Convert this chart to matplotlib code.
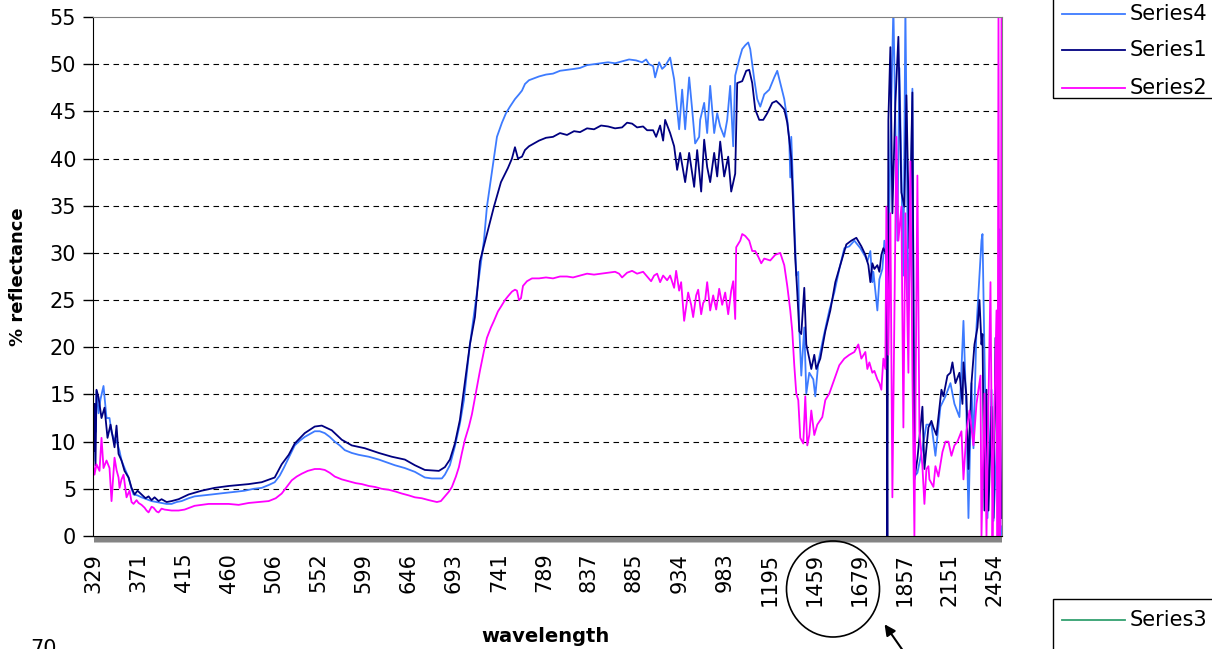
import matplotlib
matplotlib.use("Agg")
import matplotlib.pyplot as plt
from matplotlib.lines import Line2D
from matplotlib.patches import Rectangle, Ellipse, FancyArrowPatch

plt.rcParams['font.family'] = ['DejaVu Sans']

# category axis: one category per reading, a label every 45 categories
n_cat = 908
label_step = 45
wl_labels = [329, 371, 415, 460, 506, 552, 599, 646, 693, 741, 789,
             837, 885, 934, 983, 1195, 1459, 1679, 1857, 2151, 2454]

# Series1 (navy)
s1_idx = [0, 1, 2, 3, 5, 8, 11, 14, 17, 21, 23, 25, 28, 31, 35, 38, 41, 44, 48, 52,
          55, 58, 61, 65, 68, 73, 78, 85, 95, 108, 121, 135, 155, 168, 181, 188, 195,
          201, 211, 221, 228, 238, 248, 258, 271, 285, 298, 311, 321, 331, 345, 351,
          356, 361, 366, 370, 376, 381, 386, 393, 400, 407, 414, 418, 421, 424, 428,
          431, 435, 440, 445, 452, 459, 466, 473, 480, 486, 493, 500, 507, 514, 521,
          528, 533, 538, 543, 549, 553, 559, 562, 566, 569, 571, 576, 580, 583, 586,
          591, 595, 600, 603, 607, 610, 613, 616, 620, 623, 626, 630, 634, 637, 641,
          643, 648, 652, 655, 658, 661, 665, 669, 673, 678, 682, 686, 690, 693, 695,
          697, 699, 701, 703, 705, 707, 710, 712, 715, 717, 720, 722, 726, 731, 736,
          741, 747, 752, 757, 762, 767, 771, 774, 776, 778, 780, 783, 785, 787, 789,
          792, 793, 794, 796, 798, 801, 804, 807, 810, 812, 815, 818, 820, 823, 828,
          830, 834, 837, 839, 842, 847, 849, 853, 856, 858, 861, 865, 868, 869, 872,
          874, 877, 880, 883, 885, 887, 888, 890, 892, 894, 897, 899, 901, 903, 905,
          907]
s1_val = [9.0, 14.0, 7.5, 15.5, 14.7, 12.5, 13.6, 10.4, 11.8, 9.4, 11.7, 8.7, 8.0, 6.9,
          6.2, 5.1, 4.4, 4.8, 4.4, 4.0, 4.2, 3.8, 4.1, 3.7, 3.9, 3.6, 3.7, 3.9, 4.4, 4.8,
          5.1, 5.3, 5.5, 5.7, 6.2, 7.6, 8.6, 9.8, 10.9, 11.6, 11.7, 11.2, 10.2, 9.6, 9.3,
          8.8, 8.4, 8.1, 7.5, 7.0, 6.9, 7.3, 8.1, 9.8, 12.3, 15.5, 20.3, 23.2, 29.1, 32.0,
          34.9, 37.5, 39.0, 40.0, 41.2, 40.0, 40.2, 40.9, 41.3, 41.6, 41.9, 42.2, 42.3,
          42.7, 42.5, 42.9, 42.8, 43.2, 43.1, 43.5, 43.4, 43.2, 43.3, 43.8, 43.7, 43.3,
          43.4, 43.0, 43.0, 42.3, 43.5, 41.9, 44.1, 42.7, 41.3, 38.8, 40.6, 37.5, 40.6,
          37.0, 40.9, 36.5, 42.0, 39.1, 37.5, 40.6, 38.1, 41.8, 38.1, 40.2, 36.5, 38.4,
          48.0, 48.2, 49.3, 49.4, 48.0, 45.2, 44.1, 44.1, 44.8, 45.9, 46.1, 45.7, 45.2,
          43.8, 42.0, 40.0, 34.9, 29.4, 25.8, 21.7, 21.4, 26.3, 20.3, 18.8, 17.7, 19.2,
          17.7, 18.8, 21.7, 23.9, 26.9, 29.1, 30.9, 31.3, 31.6, 30.7, 29.8, 28.7, 26.9,
          28.9, 28.3, 28.7, 28.0, 29.8, 30.5, 29.8, 0.0, 44.1, 51.8, 34.2, 45.9, 52.9,
          36.4, 34.9, 46.7, 30.5, 47.0, 6.0, 8.2, 13.7, 7.1, 11.5, 12.2, 11.5, 10.7, 15.5,
          14.8, 17.0, 17.3, 18.4, 16.2, 17.3, 14.0, 18.4, 14.8, 7.1, 16.2, 20.3, 22.1,
          25.0, 20.3, 21.4, 2.7, 15.5, 2.7, 13.7, 1.9, 21.0, 6.7, 18.1, 1.9]

# Series4 (light blue)
s4_idx = [0, 1, 2, 3, 5, 7, 10, 13, 16, 18, 20, 23, 26, 28, 31, 35, 38, 40, 44, 48, 53,
          58, 63, 68, 73, 78, 83, 88, 95, 101, 110, 118, 126, 135, 143, 151, 160, 168,
          175, 181, 186, 190, 196, 201, 206, 211, 216, 221, 226, 231, 236, 241, 246,
          251, 258, 265, 275, 285, 293, 301, 311, 321, 326, 331, 338, 345, 348, 351,
          356, 361, 366, 370, 376, 383, 390, 393, 398, 403, 408, 412, 416, 421, 425,
          428, 431, 435, 440, 445, 452, 459, 466, 473, 480, 486, 493, 500, 507, 514,
          521, 528, 535, 542, 548, 552, 555, 559, 561, 565, 568, 571, 576, 580, 583,
          585, 588, 591, 595, 598, 601, 605, 606, 610, 613, 616, 620, 623, 626, 630,
          633, 636, 639, 641, 645, 648, 651, 654, 656, 660, 663, 666, 670, 675, 680,
          683, 686, 690, 693, 695, 696, 697, 699, 702, 704, 705, 707, 710, 712, 715,
          719, 721, 724, 729, 735, 740, 745, 750, 755, 760, 766, 771, 773, 776, 778,
          779, 783, 785, 788, 790, 794, 796, 799, 803, 805, 809, 811, 814, 816, 818,
          820, 823, 828, 832, 837, 841, 846, 851, 856, 860, 865, 869, 872, 874, 877,
          879, 882, 887, 888, 891, 893, 897, 899, 903, 904, 905, 906, 907]
s4_val = [8.0, 14.0, 11.0, 15.4, 13.0, 14.5, 15.9, 12.5, 12.5, 11.0, 10.4, 10.1, 9.0,
          8.0, 7.2, 6.2, 5.0, 4.4, 4.3, 4.1, 3.9, 3.7, 3.6, 3.5, 3.4, 3.4, 3.6, 3.7, 4.0,
          4.2, 4.3, 4.4, 4.5, 4.6, 4.7, 4.8, 5.0, 5.1, 5.4, 5.7, 6.4, 7.2, 8.5, 9.6, 10.1,
          10.5, 10.8, 11.1, 11.1, 10.9, 10.5, 10.0, 9.6, 9.1, 8.8, 8.6, 8.4, 8.1, 7.8, 7.5,
          7.2, 6.8, 6.5, 6.2, 6.1, 6.1, 6.1, 6.5, 7.5, 9.5, 11.9, 14.4, 20.3, 25.8, 31.3,
          34.9, 38.6, 42.3, 43.8, 44.8, 45.5, 46.3, 46.8, 47.2, 47.9, 48.3, 48.5, 48.7,
          48.9, 49.0, 49.3, 49.4, 49.5, 49.6, 49.9, 50.0, 50.1, 50.2, 50.1, 50.3, 50.5,
          50.4, 50.2, 50.5, 50.0, 49.8, 48.6, 50.2, 49.5, 49.8, 50.7, 48.4, 45.2, 43.1,
          47.3, 43.1, 48.6, 45.2, 41.6, 42.3, 44.1, 45.9, 42.7, 47.7, 42.7, 44.8, 43.4,
          42.3, 44.1, 47.7, 41.3, 48.8, 50.5, 51.6, 52.0, 52.3, 51.6, 48.4, 46.3, 45.5,
          46.8, 47.3, 48.6, 49.3, 48.0, 46.3, 44.1, 42.0, 38.0, 42.3, 36.4, 27.6, 28.0,
          22.1, 17.0, 22.1, 15.1, 17.3, 16.6, 14.8, 18.4, 21.0, 23.9, 25.8, 28.3, 30.5,
          30.7, 31.3, 30.5, 29.6, 29.1, 30.2, 26.9, 28.0, 23.9, 27.2, 28.3, 31.3, 27.6,
          41.5, 56.0, 31.3, 49.6, 27.6, 56.0, 23.9, 32.0, 47.4, 6.3, 6.7, 9.3, 11.8, 11.8,
          8.5, 13.7, 14.8, 16.2, 14.0, 12.6, 22.8, 12.9, 1.9, 16.2, 9.3, 22.1, 31.3, 32.0,
          12.9, 1.9, 15.5, 1.6, 11.1, 0.0, 32.5, 0.0, 1.0]

# Series2 (magenta)
s2_idx = [0, 1, 3, 6, 8, 10, 13, 16, 18, 21, 23, 25, 26, 28, 30, 33, 36, 38, 40, 43, 45,
          48, 51, 53, 55, 58, 60, 63, 65, 68, 71, 78, 85, 91, 101, 115, 135, 145, 155,
          165, 175, 182, 188, 193, 198, 203, 208, 214, 221, 226, 231, 236, 241, 248,
          255, 262, 268, 275, 281, 288, 295, 302, 308, 315, 321, 328, 335, 343, 347,
          351, 355, 358, 362, 365, 368, 371, 375, 378, 382, 386, 390, 393, 397, 400,
          404, 407, 411, 414, 418, 421, 423, 425, 427, 429, 433, 438, 445, 452, 459,
          466, 473, 479, 486, 493, 500, 507, 514, 521, 525, 528, 533, 538, 543, 549,
          553, 557, 560, 563, 566, 569, 573, 576, 580, 582, 585, 587, 590, 594, 597,
          599, 602, 604, 607, 609, 611, 613, 616, 619, 622, 625, 628, 631, 634, 637,
          639, 641, 642, 646, 648, 651, 655, 658, 661, 664, 667, 670, 676, 681, 686,
          690, 693, 696, 698, 700, 702, 704, 706, 709, 711, 713, 715, 717, 720, 723,
          728, 731, 735, 740, 745, 750, 755, 760, 764, 767, 771, 773, 775, 778, 780,
          783, 785, 787, 789, 791, 792, 794, 796, 798, 802, 804, 807, 809, 811, 814,
          816, 818, 820, 823, 825, 828, 830, 832, 834, 835, 839, 841, 844, 848, 851,
          854, 857, 860, 863, 867, 869, 872, 875, 879, 882, 886, 887, 890, 892, 894,
          896, 898, 899, 902, 903, 904, 905, 906, 907]
s2_val = [7.5, 6.5, 7.6, 6.9, 10.4, 7.2, 8.0, 7.2, 3.7, 8.3, 7.0, 6.2, 5.1, 6.0, 6.5,
          4.1, 4.8, 3.6, 3.4, 3.8, 3.5, 3.3, 3.0, 2.7, 2.5, 3.1, 3.0, 2.6, 2.5, 2.9, 2.8,
          2.7, 2.7, 2.8, 3.2, 3.4, 3.4, 3.3, 3.5, 3.6, 3.7, 4.0, 4.5, 5.2, 5.9, 6.3, 6.6,
          6.9, 7.1, 7.1, 7.0, 6.7, 6.3, 6.0, 5.8, 5.6, 5.5, 5.3, 5.2, 5.0, 4.9, 4.7, 4.5,
          4.3, 4.1, 4.0, 3.8, 3.6, 3.7, 4.2, 4.7, 5.2, 6.3, 7.3, 8.8, 10.2, 11.6, 12.9,
          15.2, 17.5, 19.6, 21.0, 22.1, 22.8, 23.8, 24.3, 25.0, 25.4, 25.9, 26.1, 26.0,
          25.0, 25.2, 26.5, 27.0, 27.3, 27.3, 27.4, 27.3, 27.5, 27.5, 27.4, 27.6, 27.8,
          27.7, 27.8, 27.9, 28.0, 27.8, 27.4, 27.9, 28.1, 27.8, 28.0, 27.5, 27.0, 27.6,
          27.8, 26.9, 27.6, 27.1, 27.6, 26.3, 28.1, 26.0, 26.9, 22.8, 25.8, 24.5, 23.2,
          25.5, 26.1, 23.5, 24.7, 25.0, 26.9, 23.9, 25.5, 24.0, 26.2, 24.5, 25.8, 23.5,
          26.0, 27.0, 23.0, 30.6, 31.3, 32.0, 31.8, 31.3, 30.2, 30.2, 29.6, 28.9, 29.4,
          29.2, 29.8, 30.0, 28.7, 26.5, 23.9, 21.7, 18.1, 15.1, 14.4, 10.4, 9.8, 14.8,
          9.6, 10.7, 13.3, 10.7, 11.8, 12.6, 14.4, 15.1, 16.6, 18.1, 18.8, 19.2, 19.5,
          20.3, 18.8, 19.5, 17.7, 18.4, 17.3, 17.5, 16.6, 16.2, 15.5, 18.8, 17.7, 34.9,
          19.2, 34.2, 4.1, 42.3, 31.3, 34.9, 11.5, 34.2, 17.3, 39.7, 17.3, 0.0, 38.2,
          11.1, 7.4, 3.4, 7.1, 7.4, 6.0, 5.2, 7.4, 6.3, 8.9, 10.0, 10.0, 8.5, 9.6, 10.0,
          11.1, 6.0, 11.1, 13.3, 9.6, 14.0, 17.0, 0.0, 15.1, 0.0, 14.4, 26.9, 0.0, 8.2,
          23.9, 0.0, 56.0, 0.0, 1.0, 56.0]

W, H = 1212, 649
fig = plt.figure(figsize=(W / 100, H / 100), dpi=100)


def fx(px):
    return px / W


def fy(py):
    return 1 - py / H


ax = fig.add_axes([fx(93), fy(536), (1002 - 93) / W, (536 - 17) / H])

ax.plot(s4_idx, s4_val, color='#3d7bff', lw=1.3, label='Series4')
ax.plot(s1_idx, s1_val, color='#000080', lw=1.3, label='Series1')
ax.plot(s2_idx, s2_val, color='#ff00ff', lw=1.3, label='Series2')

ax.set_xlim(-0.5, n_cat - 0.5)
ax.set_ylim(0, 55)

ax.set_yticks(range(0, 56, 5))
ax.tick_params(axis='y', direction='out', length=7, width=1, labelsize=15, pad=5)

ax.set_xticks(range(0, label_step * len(wl_labels), label_step))
ax.set_xticklabels([str(w) for w in wl_labels], rotation=90, fontsize=15)
ax.set_xticks(range(n_cat), minor=True)
ax.tick_params(axis='x', which='both', direction='out', length=4, width=0.4,
               color='#222222', pad=8)

for v in range(5, 55, 5):
    ax.axhline(v, color='black', lw=0.8, linestyle=(0, (5, 4)), zorder=0)

ax.spines['left'].set_color('black')
ax.spines['bottom'].set_color('black')
ax.spines['top'].set_color('#808080')
ax.spines['right'].set_color('#808080')

fig.text(fx(18), fy(277), '% reflectance', rotation=90, ha='center', va='center',
         fontsize=13, fontweight='bold')
fig.text(fx(545), fy(637), 'wavelength', ha='center', va='center',
         fontsize=14, fontweight='bold')

# legend of this chart
fig.add_artist(Rectangle((fx(1053), fy(98)), fx(1225) - fx(1053), fy(-10) - fy(98),
                         transform=fig.transFigure, fill=False, ec='black', lw=1))
for name, col, y in [('Series4', '#3d7bff', 14), ('Series1', '#000080', 50),
                     ('Series2', '#ff00ff', 88)]:
    fig.add_artist(Line2D([fx(1062), fx(1125)], [fy(y), fy(y)],
                          transform=fig.transFigure, color=col, lw=1.3))
    fig.text(fx(1130), fy(y), name, va='center', fontsize=15)

# legend of the chart below
fig.add_artist(Rectangle((fx(1053), fy(660)), fx(1225) - fx(1053), fy(599) - fy(660),
                         transform=fig.transFigure, fill=False, ec='black', lw=1))
fig.add_artist(Line2D([fx(1062), fx(1125)], [fy(620), fy(620)],
                      transform=fig.transFigure, color='#33a070', lw=1.3))
fig.text(fx(1130), fy(620), 'Series3', va='center', fontsize=15)

fig.text(fx(44), fy(639), '70', ha='center', va='top', fontsize=15)

# circle and arrow drawn on the chart
fig.add_artist(Ellipse((fx(833), fy(589)), 93 / W, 96 / H, transform=fig.transFigure,
                       fill=False, ec='black', lw=1.2))
fig.add_artist(FancyArrowPatch((fx(906), fy(655)), (fx(883), fy(622)),
                               transform=fig.transFigure, arrowstyle='-|>',
                               mutation_scale=16, color='black', lw=1.5))

fig.savefig('out.png', dpi=100)
